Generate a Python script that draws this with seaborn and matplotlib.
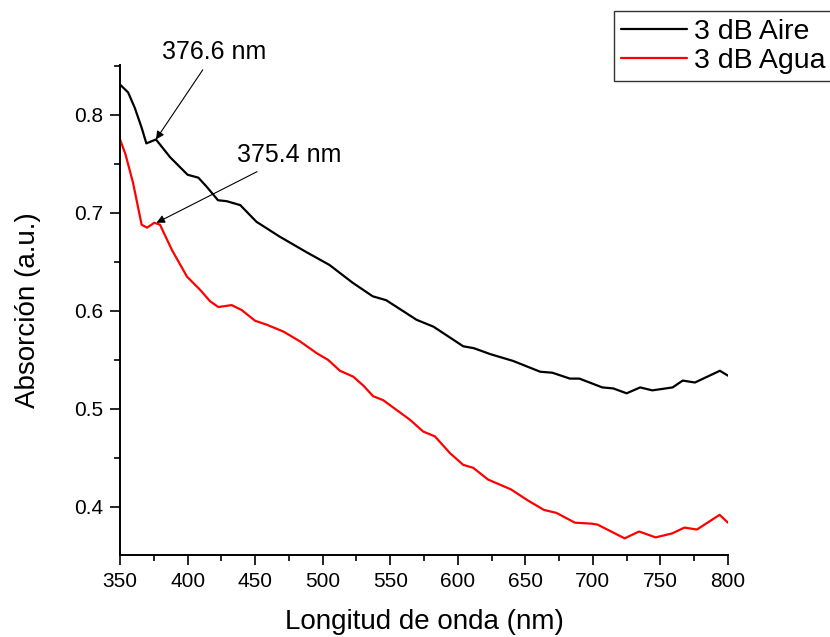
import numpy as np
import pandas as pd
import matplotlib
matplotlib.use("Agg")
import matplotlib.pyplot as plt
from matplotlib.ticker import MultipleLocator
import seaborn as sns

# --- data ---
aire_wl = [350, 356, 361, 366, 369.5, 376.6, 387, 400, 408, 414, 422.5, 429, 439, 451,
           468, 488, 505, 522, 537, 547, 569.5, 582, 604, 612, 624, 641, 661, 670,
           683, 690, 707, 715, 725, 735, 744, 759, 766.5, 775.5, 794, 800]
aire_abs = [0.831, 0.823, 0.807, 0.787, 0.771, 0.775, 0.757, 0.739, 0.736, 0.727, 0.713,
            0.712, 0.708, 0.691, 0.676, 0.660, 0.647, 0.629, 0.615, 0.611, 0.591, 0.584,
            0.564, 0.562, 0.556, 0.549, 0.538, 0.537, 0.531, 0.531, 0.522, 0.521, 0.516,
            0.522, 0.519, 0.522, 0.529, 0.527, 0.539, 0.534]

agua_wl = [350, 354, 359.6, 366, 370, 375.4, 379.6, 388.5, 399.6, 409, 416.6, 422.8, 432.6,
           440, 450, 458.6, 470.9, 483.2, 495.5, 504.1, 512.8, 522.6, 530, 537.4, 544.8,
           554.7, 564.6, 574.4, 583.1, 594.2, 604, 611.4, 622.4, 639.3, 651.5, 663.8,
           673, 686.7, 699, 703.5, 723.5, 734.2, 746.4, 758.6, 767.8, 777, 793.8, 800]
agua_abs = [0.775, 0.760, 0.731, 0.688, 0.685, 0.690, 0.688, 0.662, 0.635, 0.622, 0.610,
            0.604, 0.606, 0.601, 0.590, 0.586, 0.579, 0.569, 0.557, 0.550, 0.539, 0.533,
            0.524, 0.513, 0.509, 0.499, 0.489, 0.477, 0.472, 0.455, 0.443, 0.440, 0.428,
            0.418, 0.407, 0.397, 0.394, 0.384, 0.383, 0.382, 0.368, 0.375, 0.369, 0.373,
            0.379, 0.377, 0.392, 0.384]

series_names = ["3 dB Aire", "3 dB Agua"]
series_colors = ["#000000", "#ff0000"]
x_ticks = [350, 400, 450, 500, 550, 600, 650, 700, 750, 800]
y_ticks = [0.4, 0.5, 0.6, 0.7, 0.8]
peak_labels = ["376.6 nm", "375.4 nm"]

df = pd.concat([
    pd.DataFrame({"wl": aire_wl, "abs": aire_abs, "serie": series_names[0]}),
    pd.DataFrame({"wl": agua_wl, "abs": agua_abs, "serie": series_names[1]}),
])

sns.set_style("ticks")
plt.rcParams["font.family"] = ["Liberation Sans", "DejaVu Sans"]
plt.rcParams["text.color"] = "black"
plt.rcParams["axes.labelcolor"] = "black"
plt.rcParams["xtick.color"] = "black"
plt.rcParams["ytick.color"] = "black"

fig = plt.figure(figsize=(8.3, 6.37), dpi=100)
ax = fig.add_axes([0.1446, 0.1287, 0.7325, 0.7693])

sns.lineplot(data=df, x="wl", y="abs", hue="serie", palette=series_colors,
             hue_order=series_names, linewidth=1.6, ax=ax, sort=False,
             estimator=None)

ax.set_xlim(350, 800)
ax.set_ylim(0.351, 0.851)
ax.set_xticks(x_ticks)
ax.set_yticks(y_ticks)
ax.xaxis.set_minor_locator(MultipleLocator(25))
ax.yaxis.set_minor_locator(MultipleLocator(0.05))
ax.tick_params(axis="both", which="major", direction="out", length=7, width=1.2,
               labelsize=15, colors="black", pad=5)
ax.tick_params(axis="both", which="minor", direction="out", length=4, width=1.2)
for s in ["top", "right"]:
    ax.spines[s].set_visible(False)
for s in ["left", "bottom"]:
    ax.spines[s].set_linewidth(1.4)
    ax.spines[s].set_color("black")

ax.set_xlabel("Longitud de onda (nm)", fontsize=20, labelpad=13)
ax.set_ylabel("Absorción (a.u.)", fontsize=20, labelpad=24)

arrow = dict(arrowstyle="-|>", color="black", lw=0.8, mutation_scale=12,
             shrinkA=2, shrinkB=0)
ax.annotate(peak_labels[0], xy=(aire_wl[5], aire_abs[5]), xytext=(420, 0.864),
            fontsize=18, ha="center", va="center", arrowprops=arrow,
            annotation_clip=False)
ax.annotate(peak_labels[1], xy=(377, 0.690), xytext=(475.5, 0.759),
            fontsize=18, ha="center", va="center", arrowprops=arrow,
            annotation_clip=False)

leg = ax.legend(loc="upper right", bbox_to_anchor=(1.003, 0.982),
                bbox_transform=fig.transFigure, fontsize=20.5, frameon=True,
                fancybox=False, edgecolor="black", handlelength=2.3,
                handletextpad=0.25, borderpad=0.25, labelspacing=0.12,
                borderaxespad=0)
leg.get_frame().set_linewidth(1.0)
for line in leg.get_lines():
    line.set_linewidth(1.6)

fig.savefig("out.png", dpi=100)
